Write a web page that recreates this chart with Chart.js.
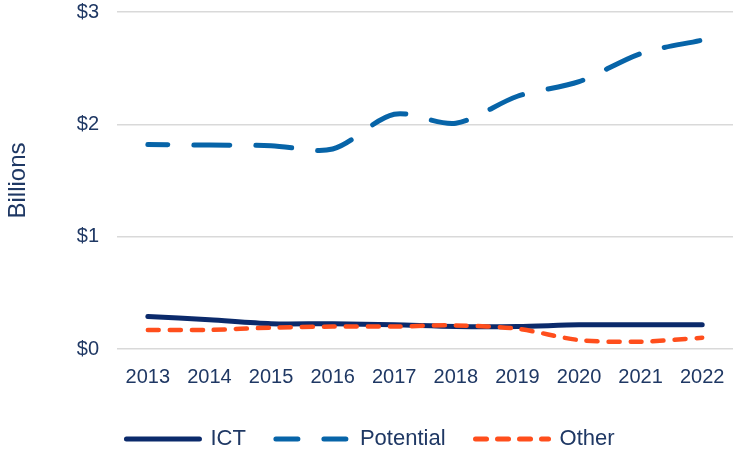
<!DOCTYPE html>
<html>
<head>
<meta charset="utf-8">
<script src="https://cdn.jsdelivr.net/npm/chart.js@4/dist/chart.umd.min.js"></script>
<style>
  html, body { margin: 0; padding: 0; background: #fff; }
  #wrap { width: 733px; height: 452px; }
</style>
</head>
<body>
<div id="wrap"><canvas id="chart"></canvas></div>
<script>
// values in $ billions
const years = ['2013', '2014', '2015', '2016', '2017', '2018', '2019', '2020', '2021', '2022'];
const ict = [0.29, 0.26, 0.225, 0.225, 0.215, 0.2, 0.2, 0.215, 0.215, 0.215];
const potential = [1.82, 1.815, 1.81, 1.78, 2.09, 2.01, 2.25, 2.38, 2.63, 2.75];
const other = [0.17, 0.17, 0.19, 0.2, 0.2, 0.21, 0.18, 0.08, 0.065, 0.1];
const yTicks = [0, 1, 2, 3];

const textColor = '#1f3864';
const font = 'Liberation Sans, Arial, sans-serif';

// legend dashes are a bit shorter than on the lines
const legendDash = { ICT: [], Potential: [22, 26], Other: [11, 11] };

new Chart(document.getElementById('chart'), {
    type: 'line',
    data: {
        labels: years,
        datasets: [
            {
                label: 'ICT',
                data: ict,
                borderColor: '#0b2a6b',
                backgroundColor: '#0b2a6b',
                borderWidth: 5,
                borderCapStyle: 'round',
                order: 2
            },
            {
                label: 'Potential',
                data: potential,
                borderColor: '#0764a8',
                backgroundColor: '#0764a8',
                borderWidth: 5,
                borderDash: [36, 26],
                borderDashOffset: 16,
                borderCapStyle: 'round',
                order: 3
            },
            {
                label: 'Other',
                data: other,
                borderColor: '#ff4e1c',
                backgroundColor: '#ff4e1c',
                borderWidth: 4.5,
                borderDash: [11, 11],
                borderCapStyle: 'round',
                order: 1
            }
        ]
    },
    options: {
        responsive: true,
        maintainAspectRatio: false,
        animation: false,
        layout: { padding: { top: 2, right: -4, left: 4, bottom: -8 } },
        elements: {
            point: { radius: 0 },
            line: { tension: 0.3 }
        },
        scales: {
            x: {
                offset: true,
                grid: { display: false, drawTicks: false },
                border: { display: false },
                ticks: { color: textColor, font: { family: font, size: 20 }, padding: 16, maxRotation: 0 },
                afterFit: scale => {
                    scale.paddingLeft = 0;
                    scale.paddingRight = 0;
                    scale.height -= 7;
                }
            },
            y: {
                min: 0,
                max: 3,
                afterBuildTicks: axis => { axis.ticks = yTicks.map(v => ({ value: v })); },
                grid: { color: '#d9d9d9', lineWidth: 1.5, drawTicks: false },
                border: { display: false },
                ticks: {
                    color: textColor,
                    font: { family: font, size: 20 },
                    padding: 18,
                    callback: v => '$' + v
                },
                title: {
                    display: true,
                    text: 'Billions',
                    color: textColor,
                    font: { family: font, size: 24 },
                    padding: { top: 0, bottom: 26 }
                },
                afterFit: scale => {
                    scale.paddingTop = 12;
                    scale.paddingBottom = 0;
                }
            }
        },
        plugins: {
            tooltip: { enabled: false },
            legend: {
                position: 'bottom',
                labels: {
                    color: textColor,
                    font: { family: font, size: 22 },
                    usePointStyle: true,
                    pointStyle: 'line',
                    pointStyleWidth: 73,
                    padding: 30,
                    sort: (a, b) => a.datasetIndex - b.datasetIndex,
                    generateLabels: chart => {
                        const items = Chart.defaults.plugins.legend.labels.generateLabels(chart);
                        items.forEach(item => {
                            const ds = chart.data.datasets[item.datasetIndex];
                            item.lineDash = legendDash[ds.label];
                            item.lineCap = 'round';
                            item.lineWidth = 5;
                            item.strokeStyle = ds.borderColor;
                        });
                        return items;
                    }
                }
            }
        }
    }
});
</script>
</body>
</html>
